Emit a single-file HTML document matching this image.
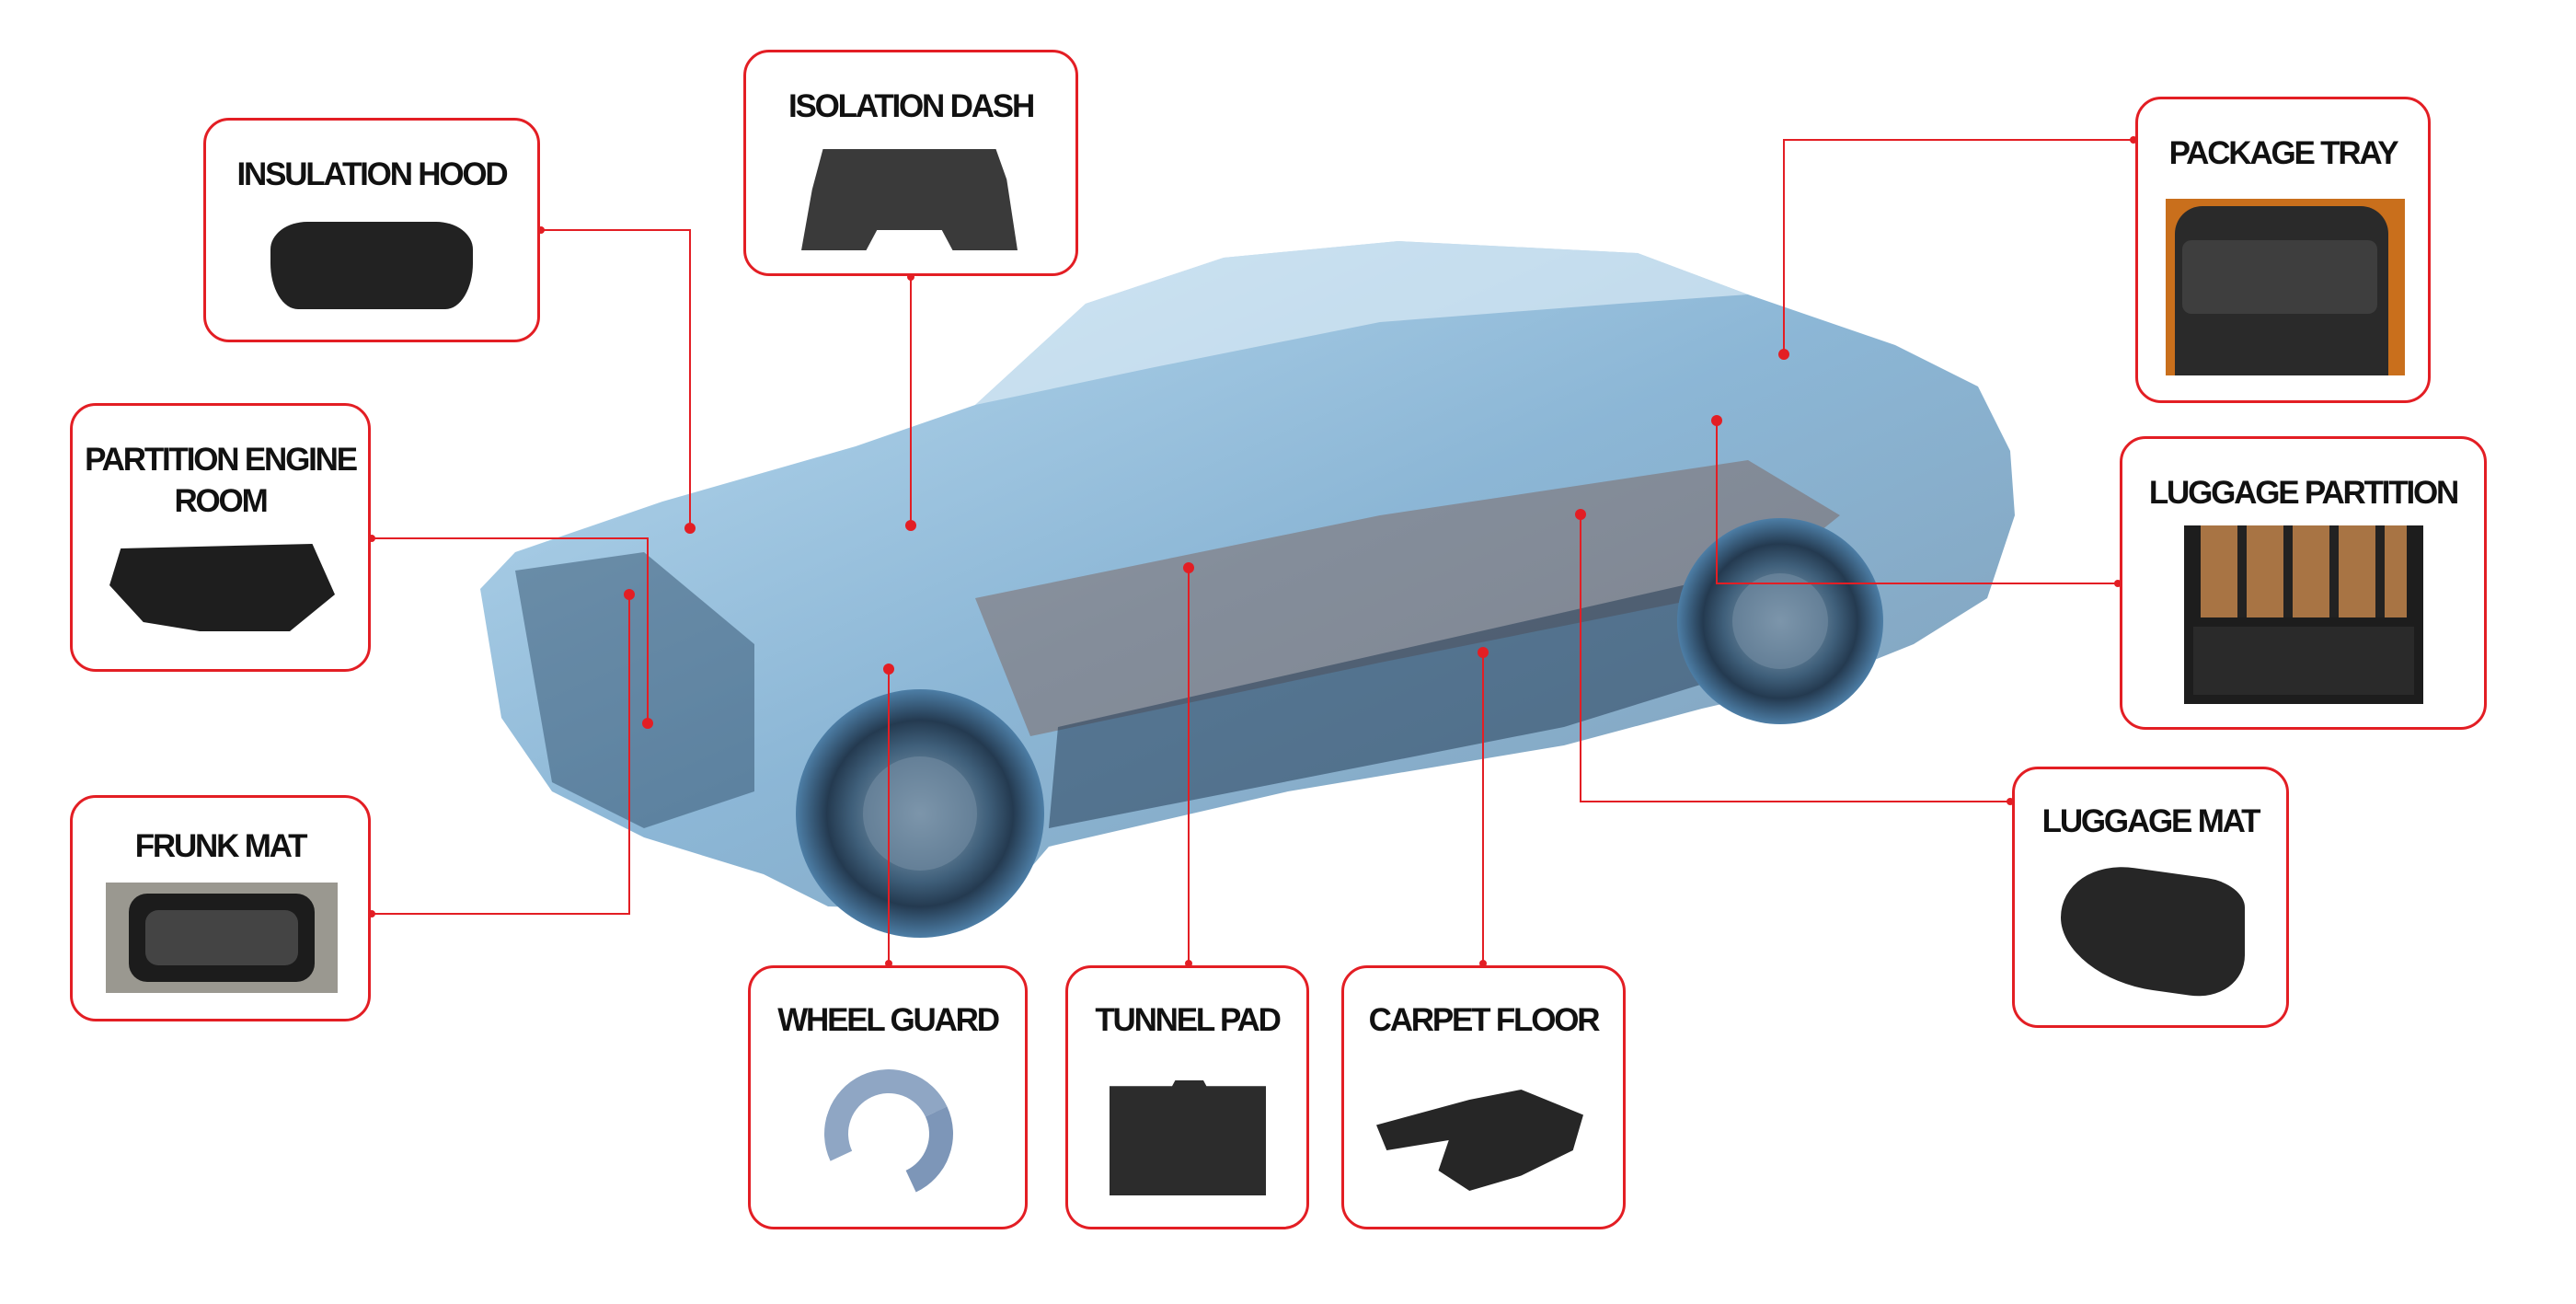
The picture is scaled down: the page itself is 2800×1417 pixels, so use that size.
<!DOCTYPE html>
<html><head><meta charset="utf-8"><style>
html,body{margin:0;padding:0;background:#fff}
#w{position:relative;width:2800px;height:1417px;overflow:hidden;background:#fff;font-family:"Liberation Sans",sans-serif}
.b{position:absolute;border:3.5px solid #e31e24;border-radius:28px;box-sizing:border-box;background:#fff}
.t{position:absolute;left:0;right:0;text-align:center;font-weight:bold;font-size:35px;letter-spacing:-2.2px;color:#111;line-height:45px}
svg{position:absolute;left:0;top:0}
</style></head><body><div id="w">
<svg width="2800" height="1417" viewBox="0 0 2800 1417">
<defs>
<linearGradient id="cg" x1="0" y1="0" x2="1" y2="1">
<stop offset="0" stop-color="#8cc3e6"/><stop offset="0.5" stop-color="#3f86ba"/><stop offset="1" stop-color="#2a5d86"/></linearGradient>
<radialGradient id="wh"><stop offset="0" stop-color="#9fb6c8"/><stop offset="0.55" stop-color="#3f5f7a"/><stop offset="0.75" stop-color="#243a50"/><stop offset="1" stop-color="#4d7ea6"/></radialGradient>
</defs>
<path d="M522 640 L560 600 L720 545 L930 485 L1060 440 L1180 330 L1330 280 L1520 262 L1780 275 L1900 320 L2060 375 L2150 420 L2185 490 L2190 560 L2160 650 L2080 700 L1980 740 L1850 770 L1700 810 L1400 860 L1140 920 L1080 990 L900 985 L830 950 L700 910 L600 860 L545 780 Z" fill="url(#cg)" opacity="0.6"/>
<path d="M1060 440 L1180 330 L1330 280 L1520 262 L1780 275 L1900 320 L1760 330 L1500 350 L1250 400 Z" fill="#d8e9f5" opacity="0.7"/>
<path d="M1060 650 L1500 560 L1900 500 L2000 560 L1900 640 L1500 720 L1120 800 Z" fill="#7a5a52" opacity="0.45"/>
<path d="M1150 790 L1900 620 L1990 700 L1700 790 L1140 900 Z" fill="#1e3550" opacity="0.5"/>
<path d="M560 620 L700 600 L820 700 L820 860 L700 900 L600 850 Z" fill="#23435f" opacity="0.45"/>
<circle cx="1000" cy="884" r="135" fill="url(#wh)"/>
<circle cx="1000" cy="884" r="62" fill="#6d889e" opacity="0.7"/>
<circle cx="1935" cy="675" r="112" fill="url(#wh)"/>
<circle cx="1935" cy="675" r="52" fill="#6d889e" opacity="0.7"/>
<g stroke="#e31e24" stroke-width="2" fill="none">
<polyline points="586,250 750,250 750,574"/>
<polyline points="990,299 990,571"/>
<polyline points="402,585 704,585 704,786"/>
<polyline points="402,993 684,993 684,646"/>
<polyline points="966,1049 966,727"/>
<polyline points="1292,1049 1292,617"/>
<polyline points="1612,1049 1612,709"/>
<polyline points="2321,152 1939,152 1939,385"/>
<polyline points="2304,634 1866,634 1866,457"/>
<polyline points="2187,871 1718,871 1718,559"/>
</g>
<g fill="#e31e24">
<circle cx="750" cy="574" r="6"/><circle cx="990" cy="571" r="6"/><circle cx="704" cy="786" r="6"/>
<circle cx="684" cy="646" r="6"/><circle cx="966" cy="727" r="6"/><circle cx="1292" cy="617" r="6"/>
<circle cx="1612" cy="709" r="6"/><circle cx="1939" cy="385" r="6"/><circle cx="1866" cy="457" r="6"/>
<circle cx="1718" cy="559" r="6"/>
<circle cx="588" cy="250" r="4"/><circle cx="990" cy="301" r="4"/><circle cx="404" cy="585" r="4"/><circle cx="404" cy="993" r="4"/>
<circle cx="966" cy="1047" r="4"/><circle cx="1292" cy="1047" r="4"/><circle cx="1612" cy="1047" r="4"/>
<circle cx="2319" cy="152" r="4"/><circle cx="2302" cy="634" r="4"/><circle cx="2185" cy="871" r="4"/>
</g>
</svg>

<div class="b" style="left:221px;top:128px;width:366px;height:244px"><div class="t" style="top:36px">INSULATION HOOD</div>
<div style="position:absolute;left:70px;top:110px;width:220px;height:95px;background:#222;border-radius:40px 40px 30px 30px/30px 30px 50px 50px"></div></div>

<div class="b" style="left:808px;top:54px;width:364px;height:246px"><div class="t" style="top:36px">ISOLATION DASH</div>
<div style="position:absolute;left:60px;top:105px;width:235px;height:110px;background:#3a3a3a;clip-path:polygon(10% 0,90% 0,95% 30%,100% 100%,70% 100%,65% 80%,35% 80%,30% 100%,0 100%,5% 40%)"></div></div>

<div class="b" style="left:76px;top:438px;width:327px;height:292px"><div class="t" style="top:36px">PARTITION ENGINE<br>ROOM</div>
<div style="position:absolute;left:40px;top:145px;width:245px;height:100px;background:#1e1e1e;clip-path:polygon(5% 10%,90% 5%,100% 60%,80% 100%,40% 100%,15% 90%,0 50%)"></div></div>

<div class="b" style="left:76px;top:864px;width:327px;height:246px"><div class="t" style="top:30px">FRUNK MAT</div>
<div style="position:absolute;left:36px;top:92px;width:252px;height:120px;background:#9a9890"><div style="position:absolute;left:25px;top:12px;right:25px;bottom:12px;background:#1c1c1c;border-radius:20px"><div style="position:absolute;left:18px;top:18px;right:18px;bottom:18px;background:#444;border-radius:14px"></div></div></div></div>

<div class="b" style="left:813px;top:1049px;width:304px;height:287px"><div class="t" style="top:34px">WHEEL GUARD</div>
<div style="position:absolute;left:80px;top:110px;width:140px;height:140px;border:26px solid #8fa6c4;border-bottom-color:transparent;border-right-color:#7d96b8;border-radius:50%;box-sizing:border-box;transform:rotate(20deg)"></div></div>

<div class="b" style="left:1158px;top:1049px;width:265px;height:287px"><div class="t" style="top:34px">TUNNEL PAD</div>
<div style="position:absolute;left:45px;top:122px;width:170px;height:125px;background:#2c2c2c;clip-path:polygon(0 5%,40% 5%,42% 0,60% 0,62% 5%,100% 5%,100% 100%,0 100%)"></div></div>

<div class="b" style="left:1458px;top:1049px;width:309px;height:287px"><div class="t" style="top:34px">CARPET FLOOR</div>
<div style="position:absolute;left:35px;top:132px;width:225px;height:110px;background:#262626;clip-path:polygon(0 35%,45% 10%,70% 0,100% 25%,95% 60%,70% 85%,45% 100%,30% 80%,35% 50%,5% 60%)"></div></div>

<div class="b" style="left:2321px;top:105px;width:321px;height:333px"><div class="t" style="top:36px">PACKAGE TRAY</div>
<div style="position:absolute;left:30px;top:108px;width:260px;height:192px;background:#c96f1c"><div style="position:absolute;left:10px;top:8px;right:18px;bottom:0;background:#2a2a2a;border-radius:30px 30px 0 0"></div><div style="position:absolute;left:18px;top:45px;right:30px;height:80px;background:#3e3e3e;border-radius:10px"></div></div></div>

<div class="b" style="left:2304px;top:474px;width:399px;height:319px"><div class="t" style="top:36px">LUGGAGE PARTITION</div>
<div style="position:absolute;left:67px;top:94px;width:260px;height:194px;background:#1d1d1d"><div style="position:absolute;left:18px;top:0;right:18px;height:100px;background:repeating-linear-gradient(90deg,#a87444 0 40px,#222 40px 50px)"></div><div style="position:absolute;left:10px;top:110px;right:10px;bottom:10px;background:#2a2a2a"></div></div></div>

<div class="b" style="left:2187px;top:833px;width:301px;height:284px"><div class="t" style="top:34px">LUGGAGE MAT</div>
<div style="position:absolute;left:50px;top:110px;width:200px;height:130px;background:#262626;border-radius:40% 20% 30% 50%/50% 20% 40% 50%;transform:skewY(8deg)"></div></div>
</div></body></html>
